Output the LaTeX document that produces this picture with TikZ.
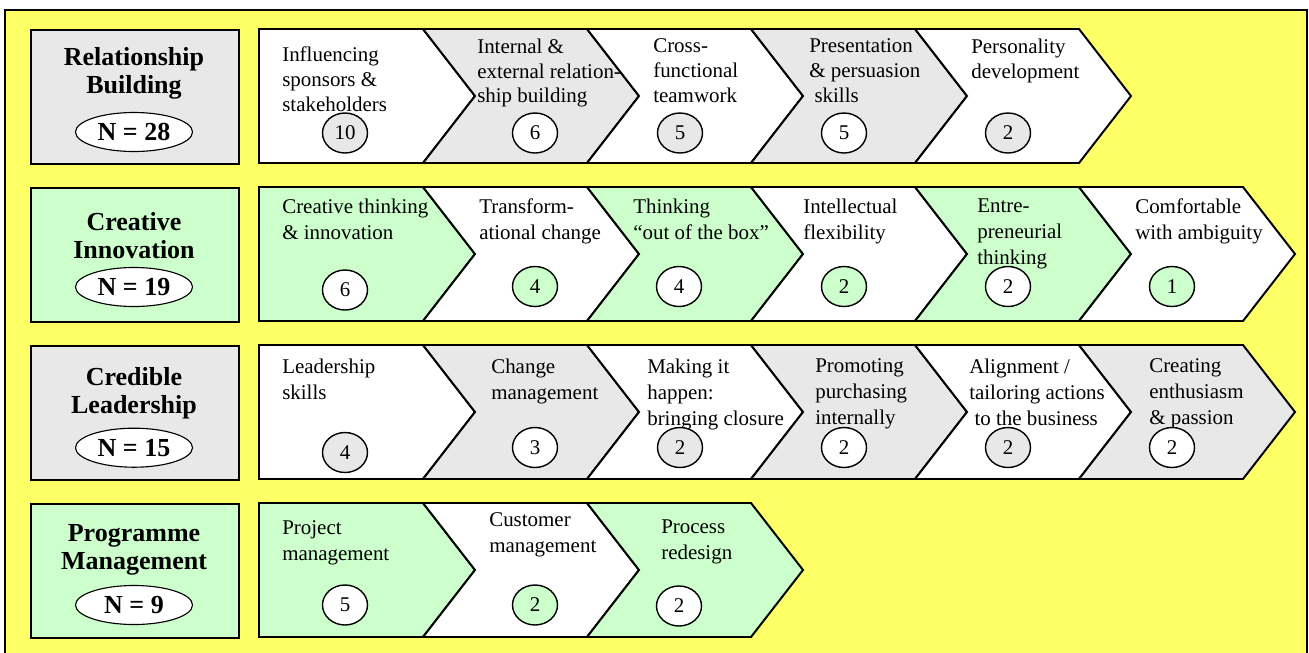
\documentclass[tikz,border=0pt]{standalone}
\usepackage{fontspec}
\setmainfont{Liberation Serif}
\usetikzlibrary{shapes.geometric}
\usepackage{xcolor}
\definecolor{board}{RGB}{255,255,102}
\definecolor{mint}{RGB}{204,255,204}
\definecolor{shade}{RGB}{232,232,232}

% chevron with a flat left end (first of a row): #1 fill
\newcommand{\firstchev}[1]{%
  \path[chev, fill=#1] (6.475,0) -- (10.575,0) -- ++(1.3,-1.675)
    -- ++(-1.3,-1.675) -- (6.475,-3.35) -- cycle;}
% notched chevron: #1 left corner x, #2 fill
\newcommand{\nextchev}[2]{%
  \path[chev, fill=#2] (#1,0) -- ++(4.1,0) -- ++(1.3,-1.675)
    -- ++(-1.3,-1.675) -- ++(-4.1,0) -- ++(1.3,1.675) -- cycle;}

\begin{document}
\begin{tikzpicture}[
    chev/.style={draw, line width=1.4pt, line join=miter},
    catbox/.style={draw, line width=1.4pt, anchor=north west, inner sep=0pt,
                   minimum width=5.2cm, minimum height=3.35cm},
    cattitle/.style={font=\fontsize{18.5}{19.9}\selectfont\bfseries,
                     align=center, anchor=north, inner sep=0pt},
    nbadge/.style={draw, ellipse, fill=white, line width=0.8pt, inner sep=0pt,
                   minimum width=2.925cm, minimum height=0.975cm,
                   font=\fontsize{18.5}{19.9}\selectfont\bfseries},
    skill/.style={font=\fontsize{14.9}{18.4}\selectfont, align=left,
                  anchor=north west, inner sep=0pt},
    tally/.style={draw, ellipse, line width=1pt, inner sep=0pt,
                  minimum width=1.125cm, minimum height=1cm,
                  font=\fontsize{14.9}{17.6}\selectfont}]
  \useasboundingbox (0,0) rectangle (32.725,-16.3);
  \draw[fill=board, line width=0.9pt] (0.125,-0.25) rectangle (32.675,-16.6);

  % relationship building
  \begin{scope}[yshift=-0.725cm,
                skill/.append style={font=\fontsize{14.9}{17.6}\selectfont}]
    \node[catbox, fill=shade] (rb) at (0.75,0) {};
    \node[cattitle] (rbt) at (3.35,-0.4625) {Relationship\\Building};
    \node[nbadge] (rbn) at (3.35,-2.575) {N = 28};
    \firstchev{white}
    \nextchev{10.575}{shade}
    \nextchev{14.675}{white}
    \nextchev{18.775}{shade}
    \nextchev{22.875}{white}
    \node[skill] (rb1) at (7.05,-0.4375) {Influencing\\sponsors \&\\stakeholders};
    \node[skill] (rb2) at (11.925,-0.2375) {Internal \&\\external relation-\\ship building};
    \node[skill] (rb3) at (16.325,-0.2375) {Cross-\\functional\\teamwork};
    \node[skill] (rb4) at (20.225,-0.2375) {Presentation\\\& persuasion\\\ skills};
    \node[skill] (rb5) at (24.275,-0.2375) {Personality\\development};
    \node[tally, fill=shade] (rb1n) at (8.625,-2.6) {10};
    \node[tally, fill=white] (rb2n) at (13.375,-2.6) {6};
    \node[tally, fill=shade] (rb3n) at (17.0,-2.6) {5};
    \node[tally, fill=white] (rb4n) at (21.1,-2.6) {5};
    \node[tally, fill=shade] (rb5n) at (25.2,-2.6) {2};
  \end{scope}

  % creative innovation
  \begin{scope}[yshift=-4.675cm]
    \node[catbox, fill=mint] (ci) at (0.75,0) {};
    \node[cattitle] (cit) at (3.35,-0.6375) {Creative\\Innovation};
    \node[nbadge] (cin) at (3.35,-2.5) {N = 19};
    \firstchev{mint}
    \nextchev{10.575}{white}
    \nextchev{14.675}{mint}
    \nextchev{18.775}{white}
    \nextchev{22.875}{mint}
    \nextchev{26.975}{white}
    \node[skill] (ci1) at (7.05,-0.2875) {Creative thinking\\\& innovation};
    \node[skill] (ci2) at (11.975,-0.2875) {Transform-\\ational change};
    \node[skill] (ci3) at (15.825,-0.2875) {Thinking\\``out of the box''};
    \node[skill] (ci4) at (20.075,-0.2875) {Intellectual\\flexibility};
    \node[skill] (ci5) at (24.425,-0.2875) {Entre-\\preneurial\\thinking};
    \node[skill] (ci6) at (28.375,-0.2875) {Comfortable\\with ambiguity};
    \node[tally, fill=white] (ci1n) at (8.625,-2.575) {6};
    \node[tally, fill=mint] (ci2n) at (13.375,-2.4875) {4};
    \node[tally, fill=white] (ci3n) at (16.975,-2.4875) {4};
    \node[tally, fill=mint] (ci4n) at (21.1,-2.4875) {2};
    \node[tally, fill=white] (ci5n) at (25.2,-2.4875) {2};
    \node[tally, fill=mint] (ci6n) at (29.3,-2.4875) {1};
  \end{scope}

  % credible leadership
  \begin{scope}[yshift=-8.625cm]
    \node[catbox, fill=shade] (cl) at (0.75,0) {};
    \node[cattitle] (clt) at (3.35,-0.545) {Credible\\Leadership};
    \node[nbadge] (cln) at (3.35,-2.5675) {N = 15};
    \firstchev{white}
    \nextchev{10.575}{shade}
    \nextchev{14.675}{white}
    \nextchev{18.775}{shade}
    \nextchev{22.875}{white}
    \nextchev{26.975}{shade}
    \node[skill] (cl1) at (7.05,-0.3375) {Leadership\\skills};
    \node[skill] (cl2) at (12.275,-0.3375) {Change\\management};
    \node[skill] (cl3) at (16.175,-0.3375) {Making it\\happen:\\bringing closure};
    \node[skill] (cl4) at (20.375,-0.3375) {Promoting\\purchasing\\internally};
    \node[skill] (cl5) at (24.225,-0.3375) {Alignment /\\tailoring actions\\\ to the business};
    \node[skill] (cl6) at (28.725,-0.3375) {Creating\\enthusiasm\\\& passion};
    \node[tally, fill=shade] (cl1n) at (8.625,-2.6875) {4};
    \node[tally, fill=white] (cl2n) at (13.375,-2.5625) {3};
    \node[tally, fill=shade] (cl3n) at (17.0,-2.5625) {2};
    \node[tally, fill=white] (cl4n) at (21.1,-2.5625) {2};
    \node[tally, fill=shade] (cl5n) at (25.2,-2.5625) {2};
    \node[tally, fill=white] (cl6n) at (29.3,-2.5625) {2};
  \end{scope}

  % programme management
  \begin{scope}[yshift=-12.575cm]
    \node[catbox, fill=mint] (pm) at (0.75,0) {};
    \node[cattitle] (pmt) at (3.35,-0.52) {Programme\\Management};
    \node[nbadge] (pmn) at (3.35,-2.55) {N = 9};
    \firstchev{mint}
    \nextchev{10.575}{white}
    \nextchev{14.675}{mint}
    \node[skill] (pm1) at (7.05,-0.4375) {Project\\management};
    \node[skill] (pm2) at (12.225,-0.2375) {Customer\\management};
    \node[skill] (pm3) at (16.525,-0.4125) {Process\\redesign};
    \node[tally, fill=white] (pm1n) at (8.625,-2.55) {5};
    \node[tally, fill=mint] (pm2n) at (13.375,-2.55) {2};
    \node[tally, fill=white] (pm3n) at (16.975,-2.575) {2};
  \end{scope}
\end{tikzpicture}
\end{document}
